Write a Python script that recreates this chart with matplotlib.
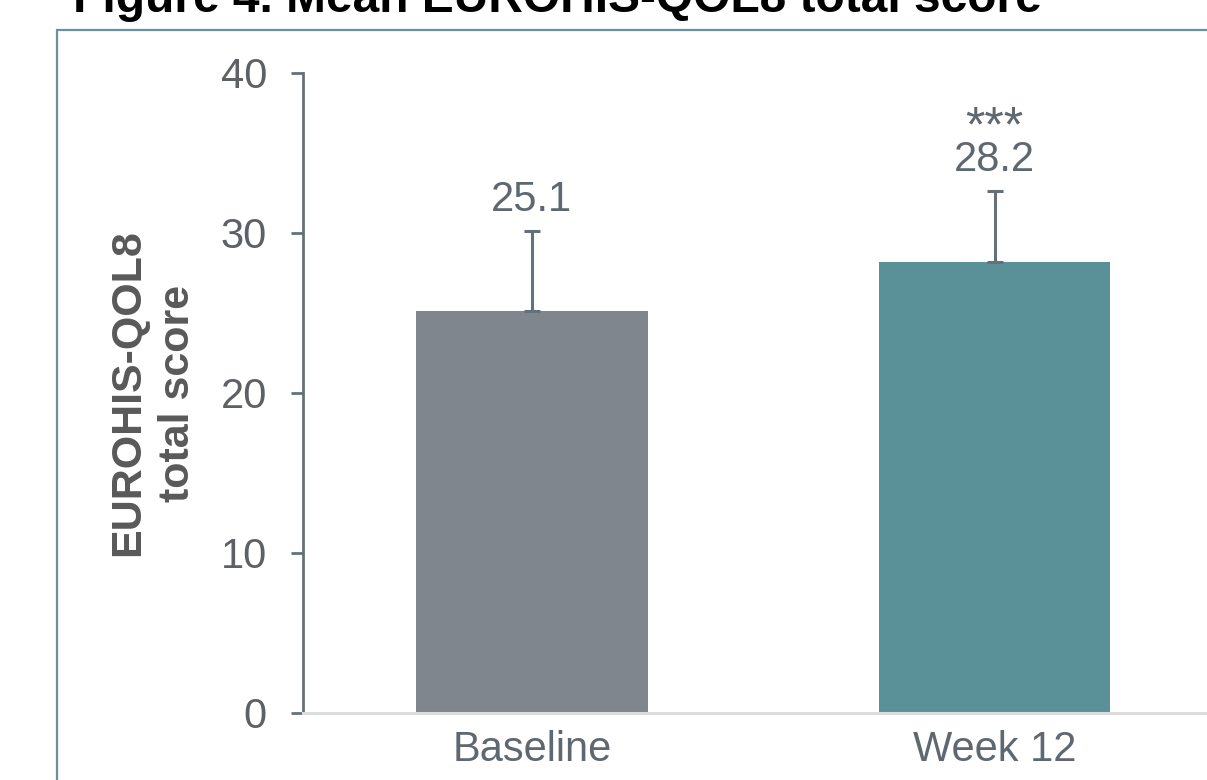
import matplotlib
matplotlib.use("Agg")
import matplotlib.pyplot as plt
from matplotlib.patches import Rectangle

# Data
categories = ["Baseline", "Week 12"]
means = [25.1, 28.2]
sd_upper = [5.0, 4.4]
significance = ["", "***"]
yticks = [0, 10, 20, 30, 40]

bar_colors = ["#7f868d", "#5a9199"]
text_color = "#5f6870"
axis_color = "#65717a"

plt.rcParams["font.family"] = ["Liberation Sans", "DejaVu Sans"]

W, H = 1207, 780
fig = plt.figure(figsize=(W / 100, H / 100), dpi=100)

def fx(px):
    return px / W

def fy(py):
    return 1 - py / H

# Outer frame around the panel
frame = Rectangle((fx(57), fy(860)), fx(1300), 830 / H, transform=fig.transFigure,
                  fill=False, edgecolor="#6b919d", linewidth=1.6, clip_on=False)
fig.patches.append(frame)

# Title
fig.text(fx(73), fy(12), "Figure 4. Mean EUROHIS-QOL8 total score",
         fontsize=34.5, fontweight="bold", color="black", ha="left", va="baseline")

# Axes: y-axis at x=303px, y from 73px (40) to 713px (0)
ax = fig.add_axes([fx(303), fy(713), fx(1226 - 303), 640 / H])
x = list(range(len(categories)))
ax.bar(x, means, width=0.5, color=bar_colors, zorder=2)
ax.errorbar(x, means, yerr=[[0] * len(sd_upper), sd_upper], fmt="none",
            ecolor=axis_color, elinewidth=2.2, capsize=6, capthick=2.2, zorder=3)

for xi, m, e, s in zip(x, means, sd_upper, significance):
    ax.annotate(f"{m:.1f}", (xi, m + e), xytext=(0, 8), textcoords="offset points",
                ha="center", va="bottom", fontsize=30, color=text_color)
    if s:
        ax.annotate(s, (xi, m + e), xytext=(0, 29), textcoords="offset points",
                    ha="center", va="bottom", fontsize=36, color=text_color)

ax.set_xlim(-0.4946, 1.5)
ax.set_ylim(0, 40)
ax.set_yticks(yticks)
ax.set_xticks(x)
ax.set_xticklabels(categories)

for side in ["top", "right"]:
    ax.spines[side].set_visible(False)
ax.spines["left"].set_color(axis_color)
ax.spines["left"].set_linewidth(2)
ax.spines["bottom"].set_color("#dcdcdc")
ax.spines["bottom"].set_linewidth(2.2)
ax.set_facecolor("none")

ax.tick_params(axis="y", direction="out", length=9, width=2, color=axis_color,
               labelsize=30, labelcolor="#5d6166", pad=17)
ax.tick_params(axis="x", length=0, labelsize=30, labelcolor=text_color, pad=12)

# Y-axis title
fig.text(fx(153), fy(393), "EUROHIS-QOL8\ntotal score", rotation=90,
         ha="center", va="center", multialignment="center",
         fontsize=31, fontweight="bold", color="#595959", linespacing=1.3)

fig.savefig("out.png", dpi=100)
